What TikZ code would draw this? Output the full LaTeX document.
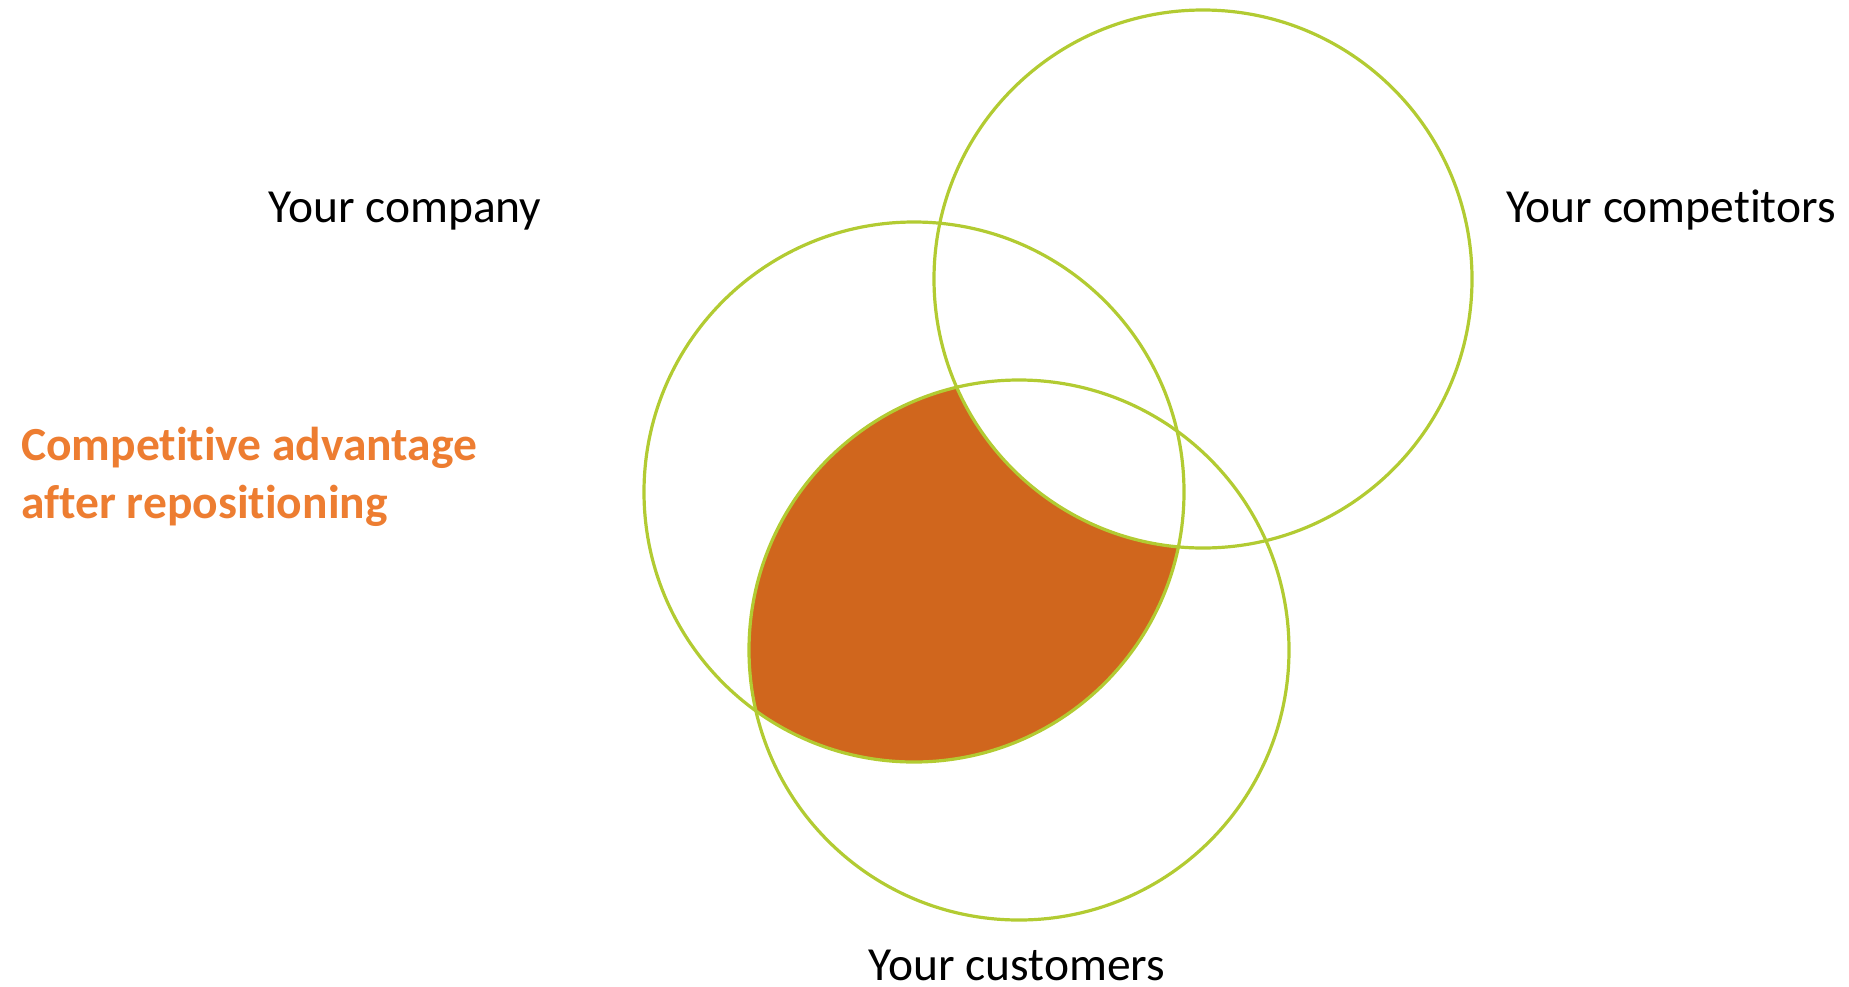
\documentclass[tikz,border=0pt]{standalone}
\usepackage{fontspec}
\setmainfont{Carlito}[RawFeature={-liga;-clig}]
\definecolor{ringgreen}{RGB}{178,203,50}
\definecolor{fillorange}{RGB}{208,102,29}
\definecolor{textorange}{RGB}{237,125,49}
\tikzset{
  ring/.style={draw=ringgreen, line width=3.2pt},
  label/.style={inner sep=0pt, font=\fontsize{47.5}{58}\selectfont, text=black},
  adv/.style={inner sep=0pt, font=\fontsize{47.5}{58}\selectfont\bfseries, text=textorange, align=left}
}
\begin{document}
\begin{tikzpicture}[x=1pt,y=-1pt]
\useasboundingbox (0,0) rectangle (1849,986);
\coordinate (company) at (914,492);
\coordinate (competitors) at (1203,279);
\coordinate (customers) at (1019,650);
% shaded region: company and customers, outside competitors
\begin{scope}
  \clip (company) circle (270);
  \clip (customers) circle (270);
  \fill[fillorange, even odd rule] (0,0) rectangle (1849,986) (competitors) circle (269);
\end{scope}
\draw[ring] (company) circle (270);
\draw[ring] (competitors) circle (269);
\draw[ring] (customers) circle (270);
\node[label, anchor=base] (lcompany) at (405,222) {Your company};
\node[label, anchor=base] (lcompetitors) at (1671,222) {Your competitors};
\node[label, anchor=base] (lcustomers) at (1017,980) {Your customers};
\node[adv, anchor=base west] (ladv) at (21,518) {Competitive advantage\\after repositioning};
\end{tikzpicture}
\end{document}
